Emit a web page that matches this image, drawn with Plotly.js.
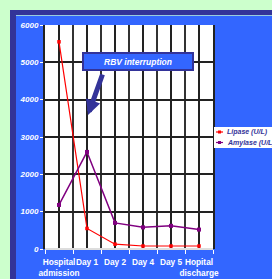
<!DOCTYPE html>
<html>
<head>
<meta charset="utf-8">
<script src="https://cdn.plot.ly/plotly-3.0.1.min.js"></script>
<style>html,body{margin:0;padding:0;background:#ccffcc;}#chart{width:272px;height:279px;}</style>
</head>
<body>
<div id="chart"></div>
<script>
const categories = ['Hospital<br>admission', 'Day 1', 'Day 2', 'Day 4', 'Day 5', 'Hopital<br>discharge'];
const lipase = [5550, 550, 130, 80, 80, 80];
const amylase = [1180, 2600, 700, 580, 620, 520];
const seriesNames = ['Lipase (U/L)', 'Amylase (U/L)'];
const seriesColors = ['#ff0000', '#800080'];
const yTicks = [0, 1000, 2000, 3000, 4000, 5000, 6000];
const annotationText = 'RBV interruption';

const xIdx = categories.map((c, i) => i);
const FONT = 'Liberation Sans, Arial, sans-serif';

const traces = [
  {x: xIdx, y: lipase, name: seriesNames[0], type: 'scatter', mode: 'lines+markers',
   line: {color: seriesColors[0], width: 1.2}, marker: {color: seriesColors[0], size: 3.5, symbol: 'square'}, showlegend: false},
  {x: xIdx, y: amylase, name: seriesNames[1], type: 'scatter', mode: 'lines+markers',
   line: {color: seriesColors[1], width: 1.5}, marker: {color: seriesColors[1], size: 4, symbol: 'square'}, showlegend: false}
];

// pixel helpers (plot area: x 45..213, y 25..249)
const L = 45, R = 213, T = 25, B = 249;
const px = v => (v - L) / (R - L);
const py = v => (B - v) / (B - T);

const shapes = [
  {type: 'rect', xref: 'paper', yref: 'paper', x0: px(10), x1: px(400), y0: py(400), y1: py(10), fillcolor: '#333399', line: {width: 0}, layer: 'below'},
  {type: 'rect', xref: 'paper', yref: 'paper', x0: px(16), x1: px(400), y0: py(400), y1: py(15.5), fillcolor: '#3366ff', line: {width: 0}, layer: 'below'},
  {type: 'line', xref: 'paper', yref: 'paper', x0: px(16), x1: px(400), y0: py(15.5), y1: py(15.5), line: {color: '#99ccdd', width: 1}, layer: 'below'},
  {type: 'rect', xref: 'paper', yref: 'paper', x0: 0, x1: 1, y0: 0, y1: 1, fillcolor: '#ffffff', line: {width: 0}, layer: 'below'},
  // legend box
  {type: 'rect', xref: 'paper', yref: 'paper', x0: px(214), x1: px(400), y0: py(148), y1: py(127), fillcolor: '#ffffff', line: {width: 0}}
];
const legendRows = [132, 142.5];
const annotations = [
  {xref: 'paper', yref: 'paper', x: px(137.5), y: py(61.5), text: '<b><i>' + annotationText + '</i></b>', showarrow: false,
   font: {family: FONT, size: 8.5, color: '#ffffff'}, bgcolor: '#3366ff', bordercolor: '#333399', borderwidth: 2,
   width: 108, height: 15, borderpad: 0, xanchor: 'center', yanchor: 'middle'},
  {xref: 'paper', yref: 'paper', x: px(88), y: py(115), text: '', showarrow: true, axref: 'pixel', ayref: 'pixel',
   ax: 15, ay: -42, arrowcolor: '#333399', arrowwidth: 5, arrowhead: 2, arrowsize: 0.6, standoff: 0, startstandoff: 0}
];
seriesNames.forEach((n, i) => {
  const yy = py(legendRows[i]);
  shapes.push({type: 'line', xref: 'paper', yref: 'paper', x0: px(216), x1: px(223), y0: yy, y1: yy, line: {color: seriesColors[i], width: 1.2}});
  shapes.push({type: 'rect', xref: 'paper', yref: 'paper', xsizemode: 'pixel', ysizemode: 'pixel', xanchor: px(219.5), yanchor: yy,
    x0: -1.5, x1: 1.5, y0: -1.5, y1: 1.5, fillcolor: seriesColors[i], line: {width: 0}});
  annotations.push({xref: 'paper', yref: 'paper', x: px(225), y: yy, xanchor: 'left', yanchor: 'middle', showarrow: false,
    text: '<b><i>' + n + '</i></b>', font: {family: FONT, size: 7, color: '#333399'}});
});

const layout = {
  width: 272, height: 279,
  margin: {l: L, r: 272 - R, t: T, b: 279 - B, pad: 0},
  paper_bgcolor: '#ccffcc', plot_bgcolor: '#ffffff',
  showlegend: false,
  xaxis: {
    range: [-0.5, 5.5], tickmode: 'array', tickvals: xIdx, ticktext: categories, tickangle: 0,
    showgrid: true, gridcolor: '#222222', gridwidth: 2, ticks: '', zeroline: false,
    showline: false, fixedrange: true, automargin: false, ticklabelstandoff: 7,
    tickfont: {family: FONT, size: 8.3, color: '#ffffff', weight: 'bold'},
    minor: {tickmode: 'linear', tick0: -0.5, dtick: 1, showgrid: true, gridcolor: '#333333', gridwidth: 2, ticks: 'outside', ticklen: 4, tickcolor: '#ffffff', tickwidth: 1}
  },
  yaxis: {
    range: [0, 6000], tickmode: 'array', tickvals: yTicks, ticktext: yTicks.map(String),
    showgrid: true, gridcolor: '#222222', gridwidth: 2, zeroline: true, zerolinecolor: '#dddddd', zerolinewidth: 2,
    showline: true, linecolor: '#222222', linewidth: 2, mirror: true,
    ticks: 'outside', ticklen: 3, tickcolor: '#ffffff', tickwidth: 1, fixedrange: true,
    tickfont: {family: FONT, size: 8, color: '#ffffff', weight: 'bold', style: 'italic'}
  },
  shapes: shapes,
  annotations: annotations
};

Plotly.newPlot('chart', traces, layout, {displayModeBar: false, staticPlot: true});
</script>
</body>
</html>
